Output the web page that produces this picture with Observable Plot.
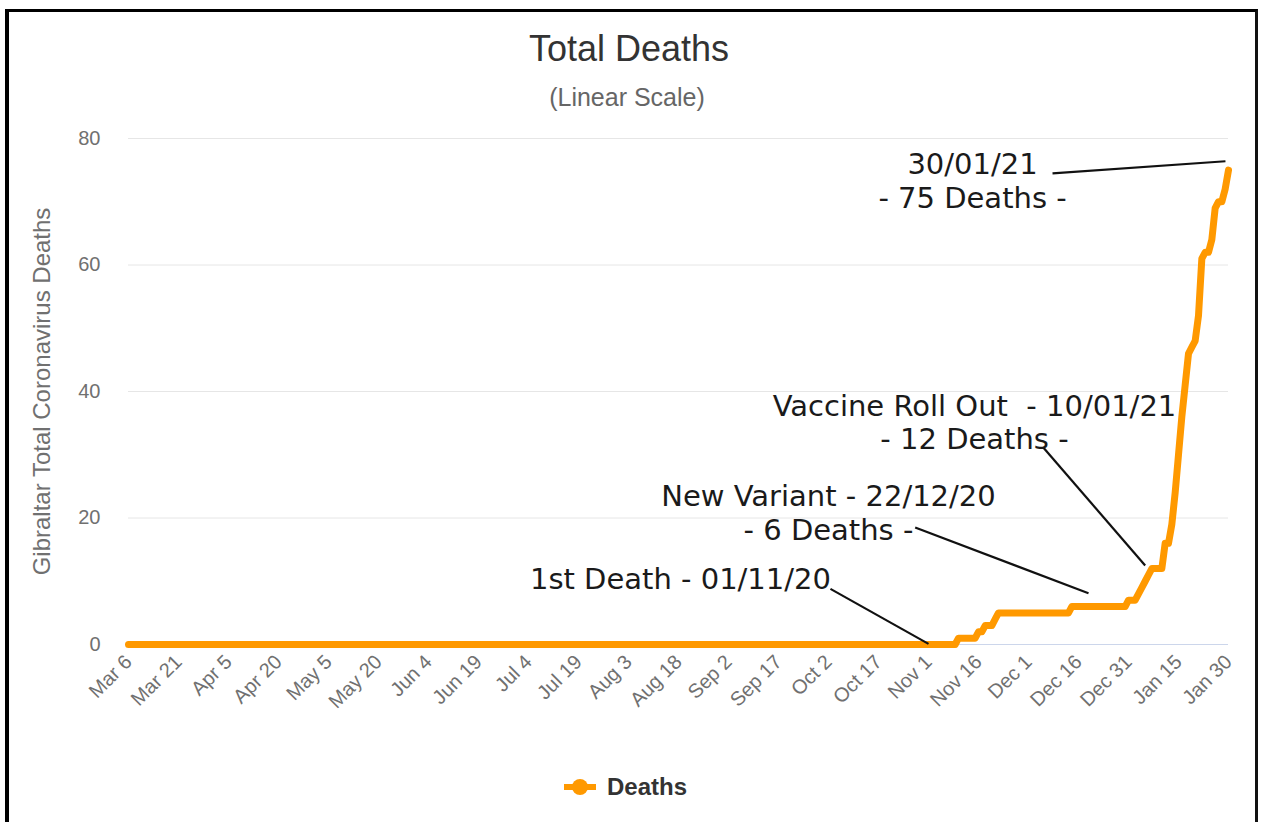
<!DOCTYPE html>
<html>
<head>
<meta charset="utf-8">
<script src="https://cdn.jsdelivr.net/npm/d3@7"></script>
<script src="https://cdn.jsdelivr.net/npm/@observablehq/plot@0.6"></script>
<style>
  html, body { margin: 0; padding: 0; background: #fff; }
  body { width: 1264px; height: 822px; overflow: hidden; position: relative; font-family: "Liberation Sans", Arial, sans-serif; }
  #frame { position: absolute; left: 5px; top: 9px; width: 1253px; height: 830px; border-top: 3px solid #000; border-left: 4px solid #000; border-right: 3px solid #111; box-sizing: border-box; }
  #title { position: absolute; left: 0; top: 31px; width: 1258px; text-align: center; font-size: 36px; line-height: 36px; color: #333; }
  #subtitle { position: absolute; left: 0; top: 85px; width: 1254px; text-align: center; font-size: 25px; line-height: 25px; color: #666; }
  #chart { position: absolute; left: 0; top: 120px; }
  #legend { position: absolute; left: 563px; top: 775px; height: 24px; display: flex; align-items: center; gap: 10px; font-size: 24px; line-height: 24px; font-weight: bold; color: #333; }
</style>
</head>
<body>
<div id="frame"></div>
<div id="title">Total Deaths</div>
<div id="subtitle">(Linear Scale)</div>
<div id="chart"></div>
<div id="legend">
  <svg width="34" height="18"><line x1="1" y1="9" x2="33" y2="9" stroke="#ff9900" stroke-width="6"/><circle cx="17" cy="9" r="8" fill="#ff9900"/></svg>
  <span>Deaths</span>
</div>
<script>
// ---- Data ----
const seriesName = "Deaths";
const startDate = "2020-03-06";
const startValue = 0;
// daily cumulative deaths from this date onward
const dailyFrom = "2020-10-31";
const dailyDeaths = [
  0,
  0,0,0,0,0,0,0,0,0, 1,1,1,1,1,1, 2,2, 3,3,3, 4, 5,5,5,5,5,5,5,5,5,
  5,5,5,5,5,5,5,5,5,5,5,5,5, 6,6,6,6,6,6,6,6,6,6,6,6,6,6,6,6,6, 7,
  7,7,8,9,10,11,12,12,12,12,16,16,19,24,30,36,41,46,47,48,52,61,62,62,64,69,70,70,72,75
];
const xTicks = ["2020-03-06","2020-03-21","2020-04-05","2020-04-20","2020-05-05","2020-05-20","2020-06-04","2020-06-19","2020-07-04","2020-07-19","2020-08-03","2020-08-18","2020-09-02","2020-09-17","2020-10-02","2020-10-17","2020-11-01","2020-11-16","2020-12-01","2020-12-16","2020-12-31","2021-01-15","2021-01-30"];
const yTicks = [0, 20, 40, 60, 80];
const yTitle = "Gibraltar Total Coronavirus Deaths";

// annotations
const noteTexts = ["30/01/21\n- 75 Deaths -", "Vaccine Roll Out\u00a0 - 10/01/21\n- 12 Deaths -", "New Variant - 22/12/20\n- 6 Deaths -", "1st Death - 01/11/20"];
const noteDates = ["2020-11-14T05:00Z", "2020-11-14T19:00Z", "2020-10-02T00:00Z", "2020-08-18T14:00Z"];
const noteValues = [73.4, 35.2, 20.9, 10.4];
const leaderFromDates = ["2020-12-08T05:00Z", "2020-12-05T12:00Z", "2020-10-28T00:00Z", "2020-10-02T14:00Z"];
const leaderFromValues = [74.5, 31.1, 18.5, 8.8];
const leaderToDates = ["2021-01-29T02:00Z", "2021-01-05T00:00Z", "2020-12-19T00:00Z", "2020-11-01T00:00Z"];
const leaderToValues = [76.4, 12.5, 8.1, 0.1];

// ---- Build tables ----
const parse = s => new Date(s.length === 10 ? s + "T00:00Z" : s);
const series = [{date: parse(startDate), value: startValue}]
  .concat(dailyDeaths.map((v, i) => ({date: d3.utcDay.offset(parse(dailyFrom), i), value: v})));
const notes = noteTexts.map((t, i) => ({text: t, date: parse(noteDates[i]), value: noteValues[i]}));
const leaders = leaderFromDates.map((d, i) => ({x1: parse(d), y1: leaderFromValues[i], x2: parse(leaderToDates[i]), y2: leaderToValues[i]}));

const chart = Plot.plot({
  width: 1264,
  height: 640,
  marginTop: 18,
  marginBottom: 116,
  marginLeft: 128,
  marginRight: 36,
  style: {fontFamily: '"Liberation Sans", Arial, sans-serif', fontSize: "20px", background: "transparent"},
  x: {type: "utc", domain: [parse(startDate), parse("2021-01-30")]},
  y: {domain: [0, 80]},
  marks: [
    Plot.gridY(yTicks.filter(d => d > 0), {stroke: "#e6e6e6", strokeOpacity: 1}),
    Plot.ruleY([0], {stroke: "#ccd6eb", strokeWidth: 1}),
    Plot.axisY({ticks: yTicks, tickSize: 0, tickPadding: 28, fontSize: 20, color: "#707070", label: null}),
    Plot.axisX({ticks: xTicks.map(parse), tickFormat: d3.utcFormat("%b %-d"), tickRotate: -45, tickSize: 0, tickPadding: 14, fontSize: 20, color: "#707070", label: null}),
    Plot.text([yTitle], {frameAnchor: "left", dx: -86, rotate: -90, textAnchor: "middle", fontSize: 24, fill: "#707070"}),
    Plot.line(series, {x: "date", y: "value", stroke: "#ff9900", strokeWidth: 7, strokeLinejoin: "round", strokeLinecap: "round"}),
    Plot.link(leaders, {x1: "x1", y1: "y1", x2: "x2", y2: "y2", stroke: "#111", strokeWidth: 2.2}),
    Plot.text(notes, {x: "date", y: "value", text: "text", fontSize: 29, fontFamily: '"DejaVu Sans", sans-serif', fill: "#1a1a1a", lineHeight: 1.15, textAnchor: "middle"})
  ]
});
document.getElementById("chart").appendChild(chart);
</script>
</body>
</html>
